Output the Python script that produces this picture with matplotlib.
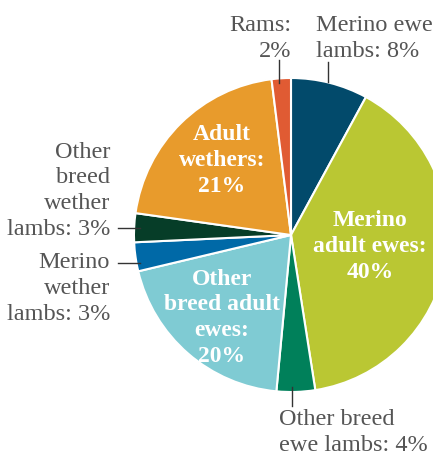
import matplotlib
matplotlib.use("Agg")
import matplotlib.pyplot as plt

# slices clockwise from 12 o'clock
labels = ["Merino ewe lambs", "Merino adult ewes", "Other breed ewe lambs",
          "Other breed adult ewes", "Merino wether lambs",
          "Other breed wether lambs", "Adult wethers", "Rams"]
values = [8, 40, 4, 20, 3, 3, 21, 2]
colors = ["#024a6b", "#bac733", "#00805a", "#7fcbd3", "#0069a7",
          "#063d28", "#e89b2c", "#e05b33"]

W, H = 433, 457
fig = plt.figure(figsize=(W / 100, H / 100), dpi=100)
ax = fig.add_axes([0, 0, 1, 1])

# pixel-ish coordinates, y pointing down
ax.pie(values, colors=colors, center=(291, 235), radius=157,
       startangle=-90, counterclock=True, frame=True,
       wedgeprops=dict(edgecolor="white", linewidth=1.5))
ax.set_xlim(0, W)
ax.set_ylim(H, 0)
ax.set_aspect("auto")
ax.axis("off")

serif = ["Liberation Serif", "DejaVu Serif"]
grey = "#555555"

# y = baseline of the last line
def outer(x, y, s, ha):
    ax.text(x, y, s, ha=ha, va="baseline", fontsize=17.5, color=grey,
            family=serif, linespacing=1.3, multialignment=ha)

def inner(x, y, s):
    ax.text(x, y, s, ha="center", va="baseline", fontsize=17, color="white",
            family=serif, fontweight="bold", linespacing=1.3)

outer(291, 57, "Rams:\n2%", "right")
outer(316, 57, "Merino ewe\nlambs: 8%", "left")
outer(110, 235, "Other\nbreed\nwether\nlambs: 3%", "right")
outer(110, 320, "Merino\nwether\nlambs: 3%", "right")
outer(279, 451, "Other breed\newe lambs: 4%", "left")

inner(222, 192, "Adult\nwethers:\n21%")
inner(370, 278, "Merino\nadult ewes:\n40%")
inner(222, 362, "Other\nbreed adult\newes:\n20%")

# leader lines
lc = "#333333"
ax.plot([279, 279], [60, 83], color=lc, lw=1)
ax.plot([328, 328], [62, 82], color=lc, lw=1)
ax.plot([118, 140], [228, 228], color=lc, lw=1)
ax.plot([118, 140], [263, 263], color=lc, lw=1)
ax.plot([292, 292], [387, 406], color=lc, lw=1)

fig.savefig("out.png", dpi=100)
